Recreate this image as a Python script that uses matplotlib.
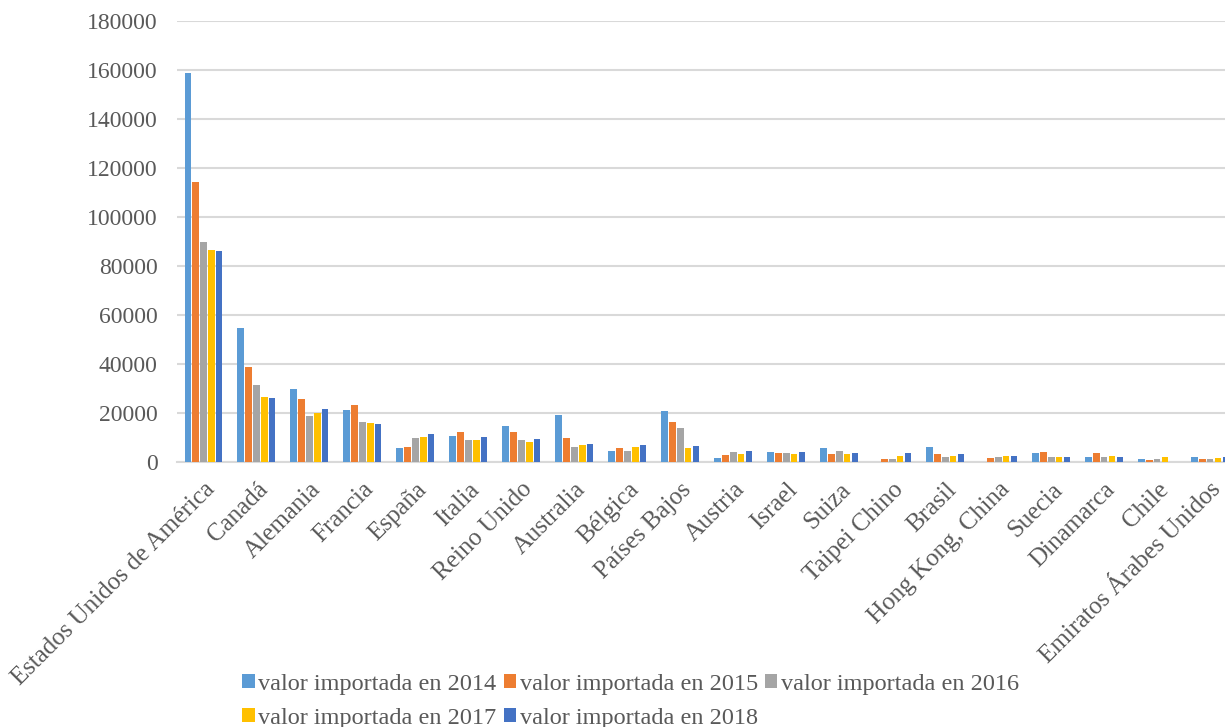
import numpy as np
import matplotlib
matplotlib.use("Agg")
from matplotlib import pyplot as plt

# importaciones por pais, 2014-2018
paises = ["Estados Unidos de América", "Canadá", "Alemania", "Francia", "España",
          "Italia", "Reino Unido", "Australia", "Bélgica", "Países Bajos",
          "Austria", "Israel", "Suiza", "Taipei Chino", "Brasil",
          "Hong Kong, China", "Suecia", "Dinamarca", "Chile", "Emiratos Árabes Unidos"]

v2014 = [158700, 54700, 29600, 20900, 5500, 10400, 14600, 18900, 4300, 20600,
         1400, 3900, 5500, 0, 6000, 0, 3600, 2000, 1000, 1800]
v2015 = [114100, 38600, 25400, 23300, 6000, 12000, 12300, 9600, 5600, 16000,
         2900, 3600, 3200, 900, 3100, 1300, 3900, 3600, 600, 1000]
v2016 = [89600, 31200, 18600, 16000, 9500, 8900, 8800, 6000, 4400, 13700,
         3900, 3500, 4400, 1000, 2100, 1800, 2100, 2100, 1000, 1000]
v2017 = [86300, 26600, 19700, 15600, 10100, 8700, 8200, 7000, 5900, 5600,
         3300, 3100, 3100, 2500, 2400, 2200, 2100, 2200, 2100, 1600]
v2018 = [86200, 26000, 21400, 15200, 11300, 10000, 9300, 7300, 7000, 6300,
         4300, 3900, 3600, 3600, 3200, 2400, 2100, 2000, 0, 1800]

series = [v2014, v2015, v2016, v2017, v2018]
etiquetas = ["valor importada en 2014", "valor importada en 2015", "valor importada en 2016",
             "valor importada en 2017", "valor importada en 2018"]
colores = ["#5B9BD5", "#ED7D31", "#A5A5A5", "#FFC000", "#4472C4"]

plt.rcParams['font.family'] = ['Liberation Serif', 'DejaVu Serif']
gris = "#595959"

fig = plt.figure(figsize=(12.25, 7.27), dpi=100)
ax = fig.add_axes([0.1445, 0.365, 0.865, 0.606])

x = np.arange(len(paises))
paso = 0.148
barras = []
for i, (vals, lab, col) in enumerate(zip(series, etiquetas, colores)):
    b = ax.bar(x + (i - 2) * paso, vals, width=0.125, color=col, label=lab, zorder=3)
    barras.append(b)

ax.set_xlim(-0.5, len(paises) - 0.5)
ax.set_ylim(0, 180000)
ax.set_yticks(np.arange(0, 180001, 20000))
ax.set_yticklabels([str(v) for v in range(0, 180001, 20000)])
ax.grid(axis='y', color='#D9D9D9', linewidth=1.5, zorder=0)
for s in ['top', 'right', 'left']:
    ax.spines[s].set_visible(False)
ax.spines['bottom'].set_color('#D9D9D9')
ax.spines['bottom'].set_linewidth(1.5)
ax.tick_params(axis='both', length=0, colors=gris)
ax.tick_params(axis='y', pad=14, labelsize=17)
ax.tick_params(axis='x', pad=12, labelsize=18)
ax.set_xticks(x)
ax.set_xticklabels(paises, rotation=45, ha='right', rotation_mode='anchor')

# leyenda en filas: 2014 2015 2016 / 2017 2018
orden = [0, 3, 1, 4, 2]
fig.legend([barras[k] for k in orden], [etiquetas[k] for k in orden],
           loc='lower left', bbox_to_anchor=(0.19, -0.016), ncol=3, frameon=False,
           fontsize=17.5, labelcolor=gris, handlelength=0.5, handleheight=0.5,
           handletextpad=0.15, columnspacing=0.3, labelspacing=0.55, borderaxespad=0)

fig.savefig("out.png", dpi=100)
